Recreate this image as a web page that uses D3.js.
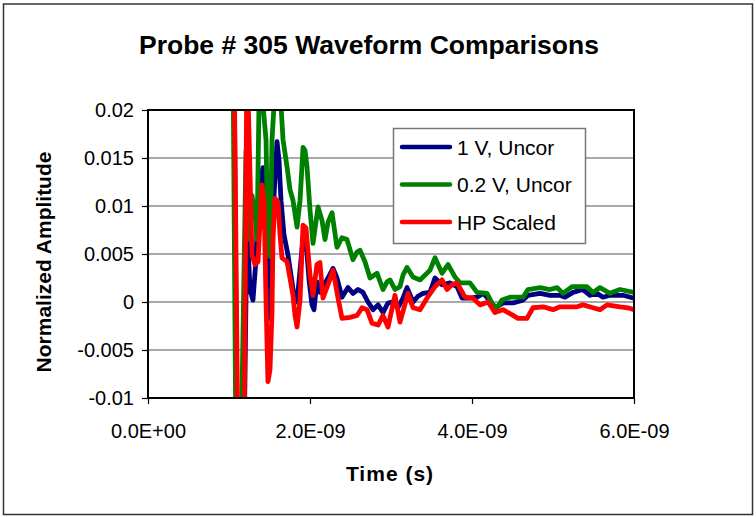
<!DOCTYPE html>
<html>
<head>
<meta charset="utf-8">
<script src="https://cdn.jsdelivr.net/npm/d3@7"></script>
<style>
  body { margin: 0; background: #fff; }
  svg { display: block; font-family: "Liberation Sans", Arial, sans-serif; }
</style>
</head>
<body>
<svg id="chart" width="756" height="517"></svg>
<script>
// time in ns, amplitude normalized
const time1V = [1.062, 1.099, 1.185, 1.222, 1.259, 1.296, 1.333, 1.370, 1.420, 1.457, 1.481, 1.506, 1.531, 1.556, 1.593, 1.617, 1.642, 1.679, 1.728, 1.765, 1.802, 1.840, 1.877, 1.914, 1.951, 1.988, 2.025, 2.049, 2.086, 2.123, 2.160, 2.222, 2.284, 2.333, 2.395, 2.469, 2.531, 2.593, 2.654, 2.716, 2.778, 2.840, 2.901, 2.963, 3.012, 3.086, 3.148, 3.198, 3.272, 3.333, 3.395, 3.481, 3.543, 3.630, 3.728, 3.815, 3.877, 3.975, 4.062, 4.136, 4.185, 4.247, 4.309, 4.383, 4.506, 4.630, 4.691, 4.840, 4.963, 5.086, 5.148, 5.247, 5.370, 5.457, 5.543, 5.617, 5.704, 5.864, 6.000];
const amp1V = [0.026, -0.016, -0.016, 0.0085, 0.0013, 0.0002, 0.0044, 0.0122, 0.0140, 0.0106, 0.0002, -0.0017, 0.0065, 0.0111, 0.0167, 0.0148, 0.0106, 0.0070, 0.0049, 0.0028, 0.0007, 0.0000, 0.0033, 0.0067, 0.0063, 0.0023, -0.0003, -0.0008, 0.0021, 0.0010, 0.0016, 0.0025, 0.0035, 0.0025, 0.0005, 0.0015, 0.0009, 0.0013, 0.0010, 0.0000, -0.0008, -0.0003, -0.0011, -0.0001, 0.0000, -0.0006, 0.0004, 0.0015, 0.0000, 0.0006, 0.0009, 0.0010, 0.0025, 0.0018, 0.0020, 0.0016, 0.0004, 0.0004, 0.0005, 0.0009, 0.0005, -0.0003, -0.0005, -0.0001, -0.0001, 0.0002, 0.0007, 0.0009, 0.0007, 0.0007, 0.0005, 0.0010, 0.0013, 0.0007, 0.0009, 0.0005, 0.0007, 0.0007, 0.0004];

const time02V = [1.049, 1.086, 1.148, 1.210, 1.247, 1.284, 1.321, 1.346, 1.370, 1.420, 1.457, 1.481, 1.506, 1.531, 1.556, 1.642, 1.667, 1.716, 1.753, 1.790, 1.840, 1.877, 1.914, 1.938, 1.963, 2.000, 2.037, 2.099, 2.148, 2.185, 2.222, 2.272, 2.333, 2.395, 2.457, 2.531, 2.580, 2.617, 2.679, 2.741, 2.827, 2.901, 2.951, 2.988, 3.049, 3.111, 3.148, 3.198, 3.272, 3.358, 3.444, 3.481, 3.543, 3.630, 3.704, 3.790, 3.852, 3.975, 4.062, 4.185, 4.259, 4.309, 4.370, 4.469, 4.630, 4.691, 4.840, 4.963, 5.049, 5.123, 5.235, 5.420, 5.494, 5.580, 5.704, 5.827, 6.000];
const amp02V = [0.026, -0.016, -0.016, 0.0158, 0.0065, 0.0111, 0.0091, 0.0065, 0.0205, 0.0205, 0.0169, 0.0054, 0.0047, 0.0169, 0.0205, 0.0205, 0.0169, 0.0141, 0.0117, 0.0106, 0.0078, 0.0106, 0.0161, 0.0158, 0.0141, 0.0096, 0.0061, 0.0099, 0.0085, 0.0065, 0.0083, 0.0093, 0.0057, 0.0067, 0.0065, 0.0044, 0.0052, 0.0054, 0.0042, 0.0025, 0.0030, 0.0013, 0.0021, 0.0023, 0.0013, 0.0016, 0.0028, 0.0036, 0.0026, 0.0023, 0.0030, 0.0033, 0.0046, 0.0030, 0.0039, 0.0026, 0.0020, 0.0020, 0.0010, 0.0009, -0.0003, -0.0006, 0.0002, 0.0005, 0.0005, 0.0013, 0.0015, 0.0013, 0.0015, 0.0009, 0.0016, 0.0016, 0.0010, 0.0015, 0.0009, 0.0013, 0.0010];

const timeHP = [1.062, 1.111, 1.185, 1.222, 1.284, 1.321, 1.358, 1.407, 1.432, 1.457, 1.481, 1.506, 1.531, 1.543, 1.568, 1.605, 1.630, 1.654, 1.716, 1.753, 1.790, 1.815, 1.840, 1.877, 1.914, 1.951, 2.000, 2.037, 2.086, 2.123, 2.160, 2.222, 2.284, 2.346, 2.395, 2.494, 2.580, 2.642, 2.704, 2.765, 2.840, 2.901, 2.963, 3.049, 3.111, 3.210, 3.272, 3.358, 3.444, 3.543, 3.630, 3.691, 3.753, 3.815, 3.914, 4.012, 4.099, 4.198, 4.284, 4.383, 4.506, 4.568, 4.679, 4.753, 4.877, 5.000, 5.086, 5.296, 5.370, 5.494, 5.580, 5.667, 5.827, 5.926, 6.000];
const ampHP = [0.026, -0.016, -0.016, 0.026, 0.0049, 0.0039, 0.0042, 0.0122, 0.0106, 0.0002, -0.0083, -0.0071, -0.0010, 0.0065, 0.0108, 0.0104, 0.0070, 0.0046, 0.0042, 0.0025, 0.0007, -0.0014, -0.0026, 0.0002, 0.0080, 0.0077, 0.0028, 0.0007, 0.0039, 0.0041, 0.0004, 0.0018, 0.0033, 0.0004, -0.0017, -0.0016, -0.0014, -0.0006, -0.0008, -0.0022, -0.0024, -0.0014, -0.0026, 0.0007, -0.0021, 0.0009, -0.0006, -0.0008, 0.0004, 0.0016, 0.0023, 0.0013, 0.0018, 0.0020, 0.0005, 0.0004, -0.0003, 0.0000, -0.0011, -0.0008, -0.0014, -0.0017, -0.0017, -0.0006, -0.0005, -0.0008, -0.0005, -0.0005, -0.0003, -0.0006, -0.0008, -0.0003, -0.0005, -0.0006, -0.0008];

const seriesNames = ["1 V, Uncor", "0.2 V, Uncor", "HP Scaled"];
const seriesColors = ["#000080", "#008000", "#FF0000"];
const xTicks = [0, 2e-9, 4e-9, 6e-9];
const yTicks = [-0.01, -0.005, 0, 0.005, 0.01, 0.015, 0.02];

const series = [
    { name: seriesNames[0], color: seriesColors[0], t: time1V, v: amp1V },
    { name: seriesNames[1], color: seriesColors[1], t: time02V, v: amp02V },
    { name: seriesNames[2], color: seriesColors[2], t: timeHP, v: ampHP }
];

const plot = { left: 148, top: 110, right: 634, bottom: 398 };

const xScale = d3.scaleLinear()
    .domain([0, 6e-9])
    .range([plot.left, plot.right]);

const yScale = d3.scaleLinear()
    .domain([-0.01, 0.02])
    .range([plot.bottom, plot.top]);

// Excel-style scientific labels, e.g. 2.0E-09
function sciFormat(d) {
    const parts = d.toExponential(1).split("e");
    const exp = +parts[1];
    const sign = exp < 0 ? "-" : "+";
    return parts[0] + "E" + sign + String(Math.abs(exp)).padStart(2, "0");
}

const svg = d3.select("#chart");

// outer chart frame
svg.append("rect")
    .attr("x", 3.5).attr("y", 4)
    .attr("width", 749).attr("height", 510.5)
    .attr("fill", "#fff")
    .attr("stroke", "#333")
    .attr("stroke-width", 1.5);

svg.append("text")
    .attr("x", 369).attr("y", 54)
    .attr("text-anchor", "middle")
    .attr("font-size", 26.5)
    .attr("font-weight", "bold")
    .text("Probe # 305 Waveform Comparisons");

// horizontal gridlines
svg.append("g")
    .selectAll("line")
    .data(yTicks.slice(1, -1))
    .enter().append("line")
    .attr("x1", plot.left).attr("x2", plot.right)
    .attr("y1", d => yScale(d)).attr("y2", d => yScale(d))
    .attr("stroke", "#555")
    .attr("stroke-width", 1);

const yAxis = svg.append("g")
    .attr("transform", `translate(${plot.left},0)`)
    .call(d3.axisLeft(yScale)
        .tickValues(yTicks)
        .tickSize(6)
        .tickPadding(8)
        .tickFormat(d => String(+d.toFixed(3))));

const xAxis = svg.append("g")
    .attr("transform", `translate(0,${plot.bottom})`)
    .call(d3.axisBottom(xScale)
        .tickValues(xTicks)
        .tickSize(6)
        .tickPadding(20)
        .tickFormat(sciFormat));

[yAxis, xAxis].forEach(ax => {
    ax.select(".domain").remove();
    ax.selectAll(".tick line").attr("stroke", "#000").attr("stroke-width", 1.2);
    ax.selectAll(".tick text")
        .attr("fill", "#000")
        .attr("font-size", 20)
        .attr("font-family", "Liberation Sans, Arial, sans-serif");
});

// waveforms, clipped to the plot area
svg.append("clipPath")
    .attr("id", "plotClip")
    .append("rect")
    .attr("x", plot.left).attr("y", plot.top)
    .attr("width", plot.right - plot.left)
    .attr("height", plot.bottom - plot.top);

const line = d3.line()
    .x(d => xScale(d[0] * 1e-9))
    .y(d => yScale(d[1]));

svg.append("g")
    .attr("clip-path", "url(#plotClip)")
    .selectAll("path")
    .data(series)
    .enter().append("path")
    .attr("d", s => line(s.t.map((t, i) => [t, s.v[i]])))
    .attr("fill", "none")
    .attr("stroke", s => s.color)
    .attr("stroke-width", 4.8)
    .attr("stroke-linejoin", "round")
    .attr("stroke-linecap", "round");

// plot area border
svg.append("rect")
    .attr("x", plot.left).attr("y", plot.top)
    .attr("width", plot.right - plot.left)
    .attr("height", plot.bottom - plot.top)
    .attr("fill", "none")
    .attr("stroke", "#000")
    .attr("stroke-width", 2);

// axis titles
svg.append("text")
    .attr("x", 390).attr("y", 481)
    .attr("text-anchor", "middle")
    .attr("font-size", 21)
    .attr("font-weight", "bold")
    .attr("letter-spacing", 1)
    .text("Time (s)");

svg.append("text")
    .attr("transform", "translate(51,262) rotate(-90)")
    .attr("text-anchor", "middle")
    .attr("font-size", 21)
    .attr("font-weight", "bold")
    .text("Normalized Amplitude");

// legend
const legend = svg.append("g");
legend.append("rect")
    .attr("x", 393.5).attr("y", 128.5)
    .attr("width", 192).attr("height", 115)
    .attr("fill", "#fff")
    .attr("stroke", "#777")
    .attr("stroke-width", 1.5);

const legendRows = legend.selectAll("g.row")
    .data(series)
    .enter().append("g")
    .attr("class", "row")
    .attr("transform", (d, i) => `translate(0,${147 + i * 37.5})`);

legendRows.append("line")
    .attr("x1", 402).attr("x2", 450)
    .attr("stroke", d => d.color)
    .attr("stroke-width", 4.5)
    .attr("stroke-linecap", "round");

legendRows.append("text")
    .attr("x", 457).attr("y", 7.5)
    .attr("font-size", 21)
    .text(d => d.name);
</script>
</body>
</html>
